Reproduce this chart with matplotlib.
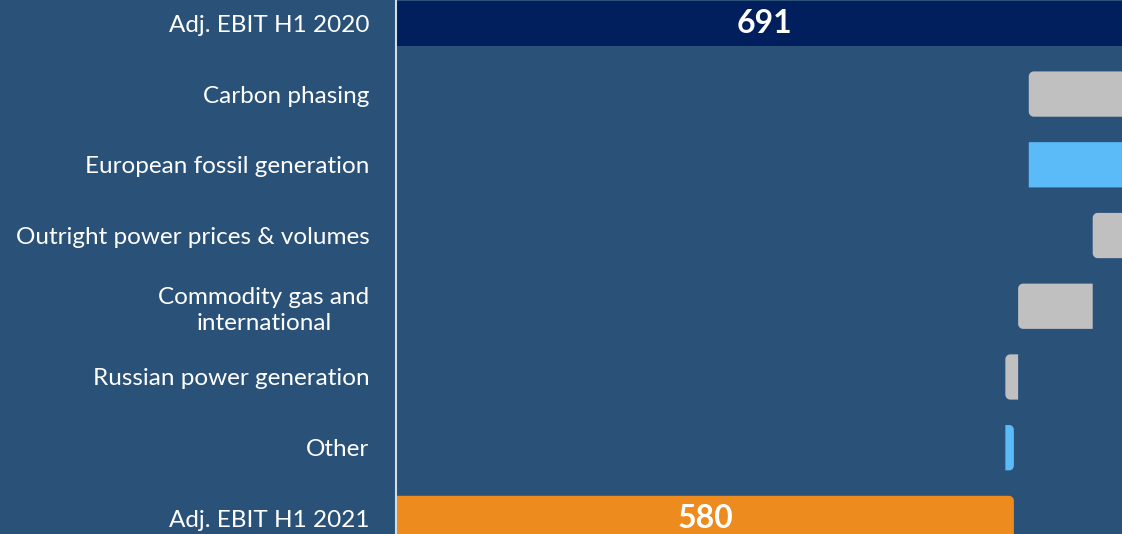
import numpy as np
import matplotlib.pyplot as plt
from matplotlib.patches import Polygon, Rectangle

# Waterfall data (EUR m)
categories = ["Adj. EBIT H1 2020", "Carbon phasing", "European fossil generation",
              "Outright power prices & volumes", "Commodity gas and\ninternational",
              "Russian power generation", "Other", "Adj. EBIT H1 2021"]
start_total = 691
deltas = [-97, 150, -90, -70, -12, 8]
end_total = 580

bg = "#2A5279"
c_total_start = "#001F5C"
c_total_end = "#EE8B1E"
c_up = "#5BBAF8"
c_down = "#C0C0C0"

# build bar lefts/widths
lefts, widths, colors, kinds = [0], [start_total], [c_total_start], ["start"]
level = start_total
for d in deltas:
    new = level + d
    lefts.append(min(level, new))
    widths.append(abs(d))
    colors.append(c_up if d > 0 else c_down)
    kinds.append("up" if d > 0 else "down")
    level = new
lefts.append(0)
widths.append(end_total)
colors.append(c_total_end)
kinds.append("end")

fig = plt.figure(figsize=(11.22, 5.34), dpi=100, facecolor=bg)
ax = fig.add_axes([396 / 1122, 0, 1 - 396 / 1122, 1], facecolor=bg)

xmax = 681.5
ax.set_xlim(0, xmax)
ax.set_ylim(7.22, -0.33)

px_x = (1122 - 396) / xmax          # pixels per x unit
px_y = 534 / (7.22 + 0.33)         # pixels per y unit
h = 0.64


def half_round_bar(l, y0, w, h, side, rpx=5):
    """bar polygon with rounded corners on one side ('left' or 'right')"""
    rx = min(rpx / px_x, w / 2)
    ry = rpx / px_y
    t = np.linspace(0, np.pi / 2, 12)
    y1 = y0 + h
    if side == "left":
        pts = [(l + w, y0), (l + w, y1)]
        # bottom-left (y1) corner then top-left (y0) corner
        pts += [(l + rx - rx * np.sin(a), y1 - ry + ry * np.cos(a)) for a in t]
        pts += [(l + rx - rx * np.cos(a), y0 + ry - ry * np.sin(a)) for a in t]
    else:
        pts = [(l, y1), (l, y0)]
        pts += [(l + w - rx + rx * np.sin(a), y0 + ry - ry * np.cos(a)) for a in t]
        pts += [(l + w - rx + rx * np.cos(a), y1 - ry + ry * np.sin(a)) for a in t]
    return pts


for i, (l, w, c, k) in enumerate(zip(lefts, widths, colors, kinds)):
    y0 = i - h / 2
    if k == "start":
        ax.add_patch(Rectangle((l, y0), w, h, facecolor=c, edgecolor="none"))
        continue
    side = "left" if k == "down" else "right"
    ax.add_patch(Polygon(half_round_bar(l, y0, w, h, side), closed=True,
                         facecolor=c, edgecolor="none"))

# total labels
ax.text(start_total / 2, 0, str(start_total), color="white", fontsize=23,
        fontweight="bold", ha="center", va="center", family="Lato")
ax.text(end_total / 2, 7.0, str(end_total), color="white", fontsize=23,
        fontweight="bold", ha="center", va="center", family="Lato")

ax.set_yticks(range(len(categories)))
ax.set_yticklabels(categories, color="white", fontsize=17.5, family="Lato",
                   multialignment="center", linespacing=1.3)
ax.tick_params(axis="y", length=0, pad=19)
ax.set_xticks([])

for s in ["top", "right", "bottom"]:
    ax.spines[s].set_visible(False)
ax.spines["left"].set_color("#D0DCE8")
ax.spines["left"].set_linewidth(1.5)

fig.savefig("out.png", dpi=100, facecolor=bg)
